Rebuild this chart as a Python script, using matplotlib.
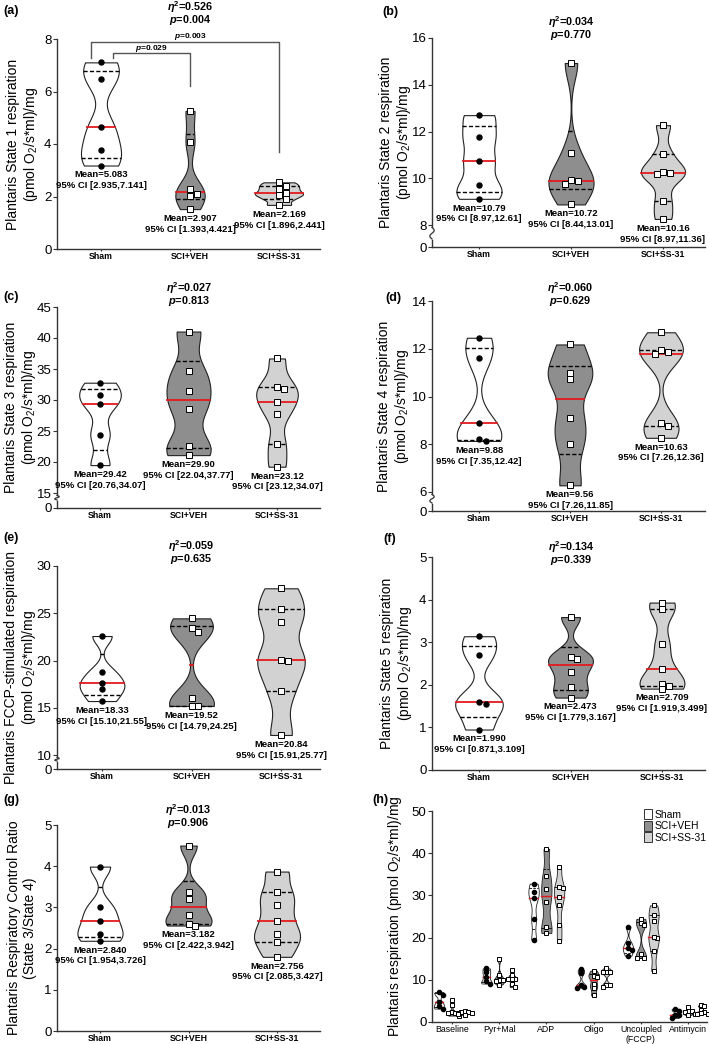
import numpy as np
import matplotlib
matplotlib.use('Agg')
import matplotlib.pyplot as plt
from matplotlib.patches import Patch
from matplotlib.lines import Line2D

plt.rcParams['font.family'] = ['Liberation Sans', 'DejaVu Sans']
plt.rcParams['mathtext.fontset'] = 'custom'
plt.rcParams['mathtext.rm'] = 'Liberation Sans'
plt.rcParams['mathtext.it'] = 'Liberation Sans:italic'
plt.rcParams['mathtext.bf'] = 'Liberation Sans:bold'
plt.rcParams['mathtext.bfit'] = 'Liberation Sans:bold:italic'

# ---- data ----
groups = ['Sham', 'SCI+VEH', 'SCI+SS-31']

state1_sham = [7.11, 6.46, 4.63, 3.76, 3.18]
state1_veh = [5.26, 4.07, 2.28, 2.10, 2.03, 1.52]
state1_ss31 = [2.54, 2.40, 2.27, 2.13, 2.05, 1.90, 1.68]

state2_sham = [12.70, 11.76, 10.73, 9.69, 9.12]
state2_veh = [14.93, 11.06, 9.88, 9.91, 9.74, 8.88]
state2_ss31 = [12.27, 11.02, 10.28, 10.18, 10.22, 9.03, 8.26]

state3_sham = [32.79, 30.81, 29.31, 24.43, 19.50]
state3_veh = [41.04, 34.66, 31.45, 28.50, 22.61, 21.11]
state3_ss31 = [36.70, 32.04, 31.72, 29.73, 27.81, 22.88, 19.24]

state4_sham = [12.46, 11.61, 8.87, 8.22, 8.14]
state4_veh = [12.18, 10.97, 10.73, 9.08, 8.01, 6.28]
state4_ss31 = [12.69, 11.94, 11.85, 11.76, 8.87, 8.77, 8.27]

fccp_sham = [22.59, 18.75, 17.58, 16.98, 15.71]
fccp_veh = [24.46, 23.40, 23.05, 16.00, 15.19, 15.19]
fccp_ss31 = [27.64, 25.45, 24.04, 19.98, 20.05, 16.77, 12.12]

state5_sham = [3.14, 2.70, 1.60, 1.55, 0.95]
state5_veh = [3.59, 2.66, 2.61, 2.30, 1.94, 1.70]
state5_ss31 = [3.93, 3.77, 2.95, 2.38, 2.03, 1.98, 1.91]

rcr_sham = [3.99, 3.00, 2.66, 2.35, 2.19]
rcr_veh = [4.50, 3.37, 3.21, 2.81, 2.56, 2.60]
rcr_ss31 = [3.87, 3.38, 3.05, 2.66, 2.35, 2.16, 1.80]

eta_sq = ['0.526', '0.034', '0.027', '0.060', '0.059', '0.134', '0.013']
p_vals = ['0.004', '0.770', '0.813', '0.629', '0.635', '0.339', '0.906']

mean_a = [('5.083', '[2.935,7.141]'), ('2.907', '[1.393,4.421]'), ('2.169', '[1.896,2.441]')]
mean_b = [('10.79', '[8.97,12.61]'), ('10.72', '[8.44,13.01]'), ('10.16', '[8.97,11.36]')]
mean_c = [('29.42', '[20.76,34.07]'), ('29.90', '[22.04,37.77]'), ('23.12', '[23.12,34.07]')]
mean_d = [('9.88', '[7.35,12.42]'), ('9.56', '[7.26,11.85]'), ('10.63', '[7.26,12.36]')]
mean_e = [('18.33', '[15.10,21.55]'), ('19.52', '[14.79,24.25]'), ('20.84', '[15.91,25.77]')]
mean_f = [('1.990', '[0.871,3.109]'), ('2.473', '[1.779,3.167]'), ('2.709', '[1.919,3.499]')]
mean_g = [('2.840', '[1.954,3.726]'), ('3.182', '[2.422,3.942]'), ('2.756', '[2.085,3.427]')]

posthoc_p = ['0.029', '0.003']

h_steps = ['Baseline', 'Pyr+Mal', 'ADP', 'Oligo', 'Uncoupled\n(FCCP)', 'Antimycin']

# ---- style ----
fills = ['white', '#8e8e8e', '#d2d2d2']
kinds = ['circle', 'square', 'square']
spine_col = '#333333'
red = '#e3191c'
unit_lab = '(pmol O$_2$/s*ml)/mg'

W, H = 709, 1044
fig = plt.figure(figsize=(W / 100, H / 100), dpi=100)


def px_axes(left, right, top, bottom):
    return fig.add_axes([left / W, 1 - bottom / H, (right - left) / W, (bottom - top) / H])


def px_text(x, y, s, **kw):
    return fig.text(x / W, 1 - y / H, s, **kw)


# kernel density, cut at the data range (like the Prism violins)
def kde_shape(v):
    bw = 0.33 * v.std(ddof=1)
    y = np.linspace(v.min(), v.max(), 200)
    d = np.exp(-0.5 * ((y[:, None] - v[None, :]) / bw) ** 2).sum(axis=1)
    return y, d / d.max()


# spread points that would overlap
def dodge(v, thr, step):
    offs = np.zeros(len(v))
    placed = []
    for i in np.argsort(-v):
        for cand in [0, step, -step, 2 * step, -2 * step]:
            ok = all(abs(v[i] - py) >= thr or abs(cand - po) >= step * 0.99 for py, po in placed)
            if ok:
                break
        offs[i] = cand
        placed.append((v[i], cand))
    return offs


def draw_violin(ax, x, vals, width, face, kind, thr, step, ms, lw=0.8, qlw=1.0, mlw=1.3):
    v = np.asarray(vals, float)
    y, d = kde_shape(v)
    hw = d * width / 2
    ax.fill_betweenx(y, x - hw, x + hw, facecolor=face, edgecolor='#222222', lw=lw, zorder=2)
    q1, med, q3 = np.percentile(v, [25, 50, 75], method='weibull')
    for q in (q1, q3):
        h = np.interp(q, y, hw)
        ax.plot([x - h, x + h], [q, q], color='k', ls=(0, (3, 1.6)), lw=qlw, zorder=3)
    h = np.interp(med, y, hw)
    ax.plot([x - h, x + h], [med, med], color=red, lw=mlw, zorder=3)
    offs = dodge(v, thr, step)
    if kind == 'circle':
        ax.plot(x + offs, v, 'o', color='k', ms=ms, zorder=4, clip_on=False)
    else:
        ax.plot(x + offs, v, 's', mfc='white', mec='k', mew=0.7, ms=ms * 1.15, zorder=4, clip_on=False)


def style_axes(ax):
    for s in ['top', 'right']:
        ax.spines[s].set_visible(False)
    for s in ['left', 'bottom']:
        ax.spines[s].set_color(spine_col)
        ax.spines[s].set_linewidth(1.0)
    ax.tick_params(axis='y', labelsize=9.5, length=3, width=0.8, color=spine_col, pad=1)
    ax.tick_params(axis='x', length=1.5, width=0.8, color=spine_col, pad=0.8)


def violin_panel(tag, data, means, k, ylabel, xr, top, bot, zero, yticks, cx, widths,
                 eta_y, tag_xy, ylab_x):
    l, r = xr
    tv, tp = top
    bv, bp = bot
    ppu = (bp - tp) / (tv - bv)
    if zero is not None:
        ax = px_axes(l, r, tp, bp + 2)
        ax.set_ylim(bv - 2 / ppu, tv)
        low = px_axes(l, r, zero - 7, zero)
        low.set_ylim(0, 1)
        low.set_yticks([0])
        ax.spines['bottom'].set_visible(False)
        ax.tick_params(axis='x', bottom=False, labelbottom=False)
        style_axes(low)
        low.patch.set_alpha(0)
        # axis break squiggle
        t = np.linspace(0, 1, 40)
        ys = (bp + 2.5) + t * (zero - 7 - bp - 3.5)
        fig.add_artist(Line2D((l + 2.2 * np.sin(2 * np.pi * t)) / W, 1 - ys / H,
                              color=spine_col, lw=0.9))
        ybottom = zero
    else:
        ax = px_axes(l, r, tp, bp)
        ax.set_ylim(0, tv)
        low = ax
        ybottom = bp
    style_axes(ax)
    ax.set_yticks(yticks)
    ax.patch.set_alpha(0)
    sp = (cx[2] - cx[0]) / 2
    xl = ((l - cx[0]) / sp, (r - cx[0]) / sp)
    ax.set_xlim(*xl)
    low.set_xlim(*xl)
    low.set_xticks([0, 1, 2])
    low.set_xticklabels(groups, fontsize=6.3, fontweight='bold')

    for i in range(3):
        draw_violin(ax, i, data[i], widths[i], fills[i], kinds[i], 5.0 / ppu, 6.5 / sp, 3.6)
        m, ci = means[i]
        ax.annotate('Mean=%s\n95%% CI %s' % (m, ci), xy=(i, min(data[i])), xytext=(0, -3.5),
                    textcoords='offset points', ha='center', va='top', fontsize=6.8,
                    fontweight='bold', linespacing=1.25, annotation_clip=False)

    px_text(cx[1], eta_y, r'$\mathbfit{\eta}^{\mathbf{2}}$=' + eta_sq[k], ha='center', va='center',
            fontsize=7.8, fontweight='bold')
    px_text(cx[1], eta_y + 13, r'$\mathbfit{p}$=' + p_vals[k], ha='center', va='center',
            fontsize=7.8, fontweight='bold')
    px_text(tag_xy[0], tag_xy[1], tag, ha='center', va='center', fontsize=9, fontweight='bold')
    px_text(ylab_x, (tp + ybottom) / 2, ylabel, rotation=90, ha='center', va='center',
            multialignment='center', fontsize=10, linespacing=1.15)
    return ax


# (a)
ax_a = violin_panel('(a)', (state1_sham, state1_veh, state1_ss31), mean_a, 0,
                    'Plantaris State 1 respiration\n' + unit_lab,
                    (57, 320), (8, 39), (0, 249), None, [0, 2, 4, 6, 8], (101, 190, 279),
                    (0.45, 0.33, 0.54), 7, (11, 11), 23)
gcol = '#555555'
ax_a.plot([-0.11, -0.11, 2.0, 2.0], [7.28, 7.89, 7.89, 3.70], color=gcol, lw=1.0, clip_on=False)
ax_a.plot([0.13, 0.13, 1.0, 1.0], [7.28, 7.47, 7.47, 6.21], color=gcol, lw=1.0, clip_on=False)
ax_a.text(0.57, 7.62, r'$\mathbfit{p}$=' + posthoc_p[0], ha='center', va='center', fontsize=6,
          fontweight='bold')
ax_a.text(1.0, 8.08, r'$\mathbfit{p}$=' + posthoc_p[1], ha='center', va='center', fontsize=6,
          fontweight='bold')

# (b)
violin_panel('(b)', (state2_sham, state2_veh, state2_ss31), mean_b, 1,
             'Plantaris State 2 respiration\n' + unit_lab,
             (432, 705), (16, 38), (8, 225), 247, [8, 10, 12, 14, 16], (479, 571, 663),
             (0.49, 0.49, 0.48), 22, (390, 12), 396)

# (c)
violin_panel('(c)', (state3_sham, state3_veh, state3_ss31), mean_c, 2,
             'Plantaris State 3 respiration\n' + unit_lab,
             (57, 320), (45, 307), (15, 493), 508, [15, 20, 25, 30, 35, 40, 45], (100, 189, 277),
             (0.47, 0.5, 0.47), 288, (11, 297), 21)

# (d)
violin_panel('(d)', (state4_sham, state4_veh, state4_ss31), mean_d, 3,
             'Plantaris State 4 respiration\n' + unit_lab,
             (432, 705), (14, 301), (6, 492), 511, [6, 8, 10, 12, 14], (479, 570, 661),
             (0.49, 0.49, 0.48), 288, (393, 298), 394)

# (e)
violin_panel('(e)', (fccp_sham, fccp_veh, fccp_ss31), mean_e, 4,
             'Plantaris FCCP-stimulated respiration\n' + unit_lab,
             (57, 320), (30, 566), (10, 755), 769, [10, 15, 20, 25, 30], (102, 191, 281),
             (0.5, 0.5, 0.53), 546, (11, 538), 21)

# (f)
violin_panel('(f)', (state5_sham, state5_veh, state5_ss31), mean_f, 5,
             'Plantaris State 5 respiration\n' + unit_lab,
             (432, 705), (5, 557), (0, 770), None, [0, 1, 2, 3, 4, 5], (479, 571, 662),
             (0.52, 0.49, 0.49), 547, (390, 539), 397)

# (g)
violin_panel('(g)', (rcr_sham, rcr_veh, rcr_ss31), mean_g, 6,
             'Plantaris Respiratory Control Ratio\n(State 3/State 4)',
             (57, 320), (5, 825), (0, 1031), None, [0, 1, 2, 3, 4, 5], (100, 188, 277),
             (0.51, 0.52, 0.52), 810, (11, 800), 22)

# (h) all steps together
h_data = [(state1_sham, state1_veh, state1_ss31),
          (state2_sham, state2_veh, state2_ss31),
          (state3_sham, state3_veh, state3_ss31),
          (state4_sham, state4_veh, state4_ss31),
          (fccp_sham, fccp_veh, fccp_ss31),
          (state5_sham, state5_veh, state5_ss31)]
ax_h = px_axes(432, 707, 811, 1022)
style_axes(ax_h)
ax_h.set_ylim(0, 50)
ax_h.set_yticks([0, 10, 20, 30, 40, 50])
ax_h.set_xlim(-0.42, 5.40)
ax_h.set_xticks(range(len(h_steps)))
ax_h.set_xticklabels(h_steps, fontsize=6.3, linespacing=1.05)
ppu_h = 211 / 50
for g, trio in enumerate(h_data):
    for k in range(3):
        draw_violin(ax_h, g + (k - 1) * 0.27, trio[k], 0.22, fills[k], kinds[k],
                    3.5 / ppu_h, 0.075, 3.0, lw=0.6, qlw=0.6, mlw=1.0)
px_text(380, 800, '(h)', ha='center', va='center', fontsize=9, fontweight='bold')
px_text(395, 916, 'Plantaris respiration ' + unit_lab, rotation=90, ha='center', va='center',
        fontsize=10)
handles = [Patch(facecolor=fills[k], edgecolor='#333333', lw=0.7) for k in range(3)]
fig.legend(handles, groups, loc='upper right', bbox_to_anchor=(707 / W, 1 - 809 / H),
           fontsize=7.5, frameon=False, handlelength=0.7, handleheight=1.1, handletextpad=0.3,
           labelspacing=0.1, borderaxespad=0, borderpad=0)

fig.savefig('out.png', dpi=100)
